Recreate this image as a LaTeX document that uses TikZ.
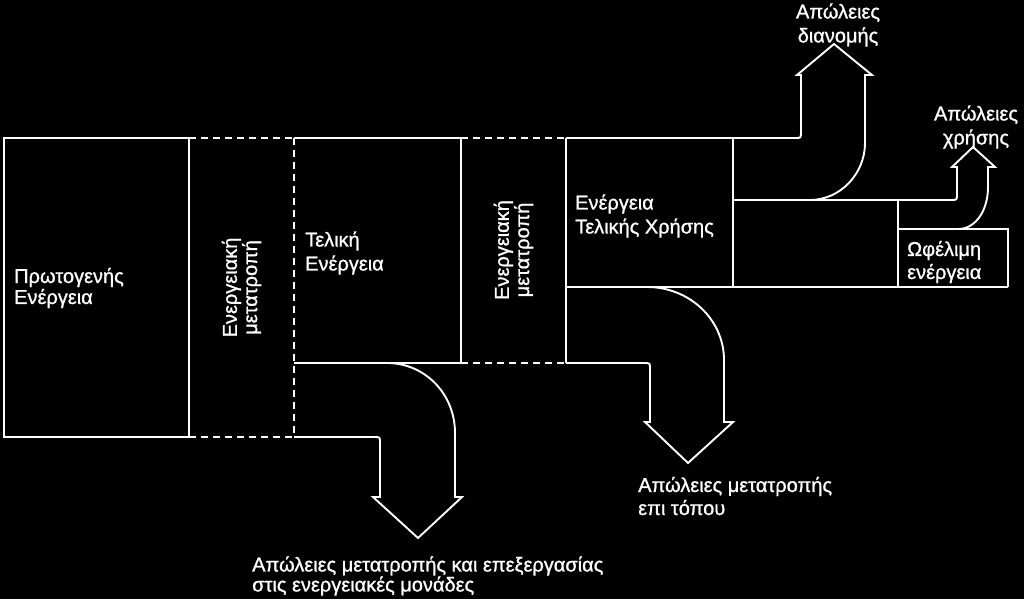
\documentclass[tikz,border=0pt]{standalone}
\usepackage{fontspec}
\setmainfont{Liberation Sans}[FakeBold=1]
\usetikzlibrary{positioning}
\definecolor{ground}{HTML}{000000}
\definecolor{chalk}{HTML}{FFFFFF}

\begin{document}
\begin{tikzpicture}[x=1pt,y=-1pt,
  font=\fontsize{20}{24}\selectfont,
  wall/.style={draw=chalk,line width=1.9pt,line join=miter},
  seam/.style={wall,dash pattern=on 7pt off 5pt},
  lbl/.style={text=chalk,inner sep=0pt,align=left,anchor=west},
  mid/.style={text=chalk,inner sep=0pt,align=center},
  rot/.style={text=chalk,inner sep=0pt,align=center,rotate=90,
              font=\fontsize{20}{19}\selectfont}]
\fill[ground] (0,0) rectangle (1024,599);
\useasboundingbox (0,0) rectangle (1024,599);

% boxes along the chain
\draw[wall] (4,138) rectangle (189,437);
\draw[seam] (189,138) -- (294,138) (189,437) -- (294,437) (294,138) -- (294,437);
\draw[wall] (294,138) -- (461,138) -- (461,363) -- (294,363);
\draw[seam] (461,138) -- (566,138) (461,363) -- (566,363);
\draw[wall] (566,363) -- (566,138);
\draw[wall] (733,138) -- (733,287) (566,287) -- (1008,287);
\draw[wall] (898,200) -- (898,287) (898,229) -- (1008,229) -- (1008,287);

% loss arrows
\draw[wall] (566,138) -- (795,138) .. controls (801,138) .. (801,132) -- (801,75)
  -- (797,75) -- (834,44) -- (872,75) -- (865,75) -- (865,143)
  .. controls (865,174) and (840,200) .. (810,200);
\draw[wall] (733,200) -- (951,200) .. controls (957,200) .. (957,194) -- (957,167)
  -- (952,167) -- (973,147) -- (995,167) -- (988,167) -- (988,187)
  .. controls (988,210) and (976,229) .. (958,229);
\draw[wall] (566,363) -- (644,363) .. controls (650,363) .. (650,369) -- (650,422)
  -- (645,422) -- (688,463) -- (733,422) -- (724,422) -- (724,360)
  .. controls (724,320) and (690,287) .. (647,287);
\draw[wall] (294,437) -- (374,437) .. controls (380,437) .. (380,443) -- (380,497)
  -- (373,497) -- (418,538) -- (462,497) -- (455,497) -- (455,433)
  .. controls (455,394) and (425,363) .. (387,363);

% labels
\node[lbl,font=\fontsize{20}{21}\selectfont] (prim) at (14,288) {Πρωτογενής\\Ενέργεια};
\node[rot] (conv1) at (241.5,287.5) {Ενεργειακή\\μετατροπή};
\node[lbl] (final) at (305,253) {Τελική\\Ενέργεια};
\node[rot] (conv2) at (513.5,250) {Ενεργειακή\\μετατροπή};
\node[lbl] (enduse) at (575,216) {Ενέργεια\\Τελικής Χρήσης};
\node[lbl,font=\fontsize{20}{23}\selectfont] (useful) at (907,262) {Ωφέλιμη\\ενέργεια};
\node[mid] (ldist) at (838,25) {Απώλειες\\διανομής};
\node[mid] (luse) at (976,127) {Απώλειες\\χρήσης};
\node[lbl,font=\fontsize{20}{23}\selectfont] (lsite) at (638,496) {Απώλειες μετατροπής\\επι τόπου};
\node[lbl,font=\fontsize{20}{20}\selectfont] (lplant) at (252,576) {Απώλειες μετατροπής και επεξεργασίας\\στις ενεργειακές μονάδες};
\end{tikzpicture}
\end{document}
